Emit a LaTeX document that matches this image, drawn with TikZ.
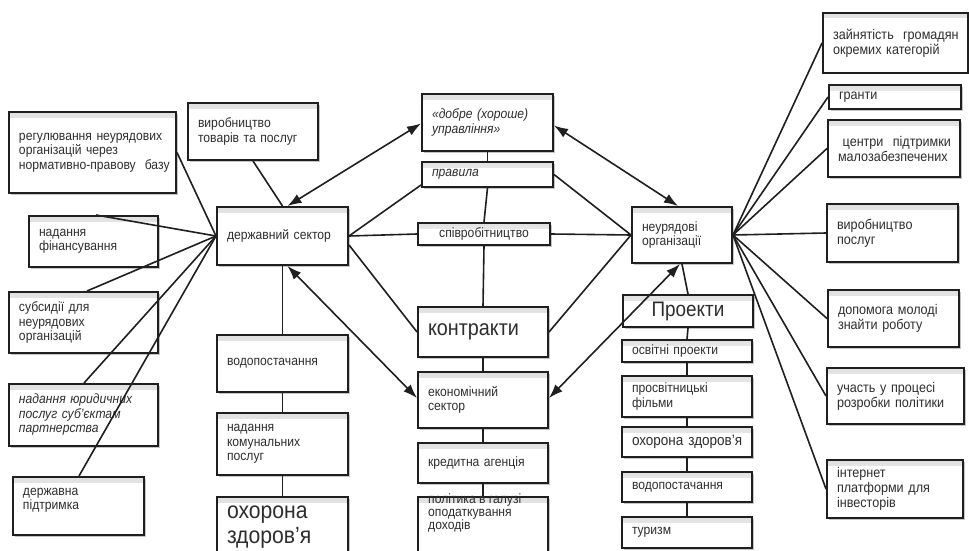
\documentclass[tikz,border=0pt]{standalone}
\usepackage{fontspec}
\setmainfont{Liberation Sans}[FakeStretch=0.9]
\usetikzlibrary{arrows.meta,shadows,calc}
\newcommand\bxx[7][]{%
  \pgfmathsetmacro\bw{#5-#3}%
  \pgfmathsetmacro\bh{#6-#4}%
  \pgfmathsetmacro\tw{#5-#3-20}%
  \node[box,minimum width=\bw pt,minimum height=\bh pt,text width=\tw pt,#1] (#2) at ({(#3+#5)/2},{(#4+#6)/2}) {#7};}
\begin{document}
\begin{tikzpicture}[x=1pt,y=-1pt,
  box/.style={draw=black!88,line width=2pt,fill=white,rectangle,inner xsep=10pt,inner ysep=1pt,align=left,
    font=\fontsize{13.5}{14.5}\selectfont,text=black!82,
    path picture={\shade[top color=black!12,bottom color=white]
      (path picture bounding box.north west) rectangle ([yshift=-5pt]path picture bounding box.north east);},
    drop shadow={shadow xshift=1.5pt,shadow yshift=-1.5pt,fill=black!45}},
  txtstyle/.style={inner sep=0pt,align=left,font=\fontsize{13.5}{13}\selectfont,text=black!82},
  ln/.style={line width=1.6pt,draw=black!88},
  arr/.style={ln,{Latex[length=14pt,width=10pt]}-{Latex[length=14pt,width=10pt]}},
  big/.style={font=\fontsize{23.5}{25}\selectfont},
  rt/.style={font=\fontsize{14}{15}\selectfont},
  itl/.style={font=\fontsize{13.5}{14.5}\selectfont\itshape},
  ctr/.style={align=center}]
\clip (0,0) rectangle (969,551);
\fill[white] (0,0) rectangle (969,551);
% left group
\bxx{reg}{9}{112}{176}{193}{регулювання~неурядових\\організацій~через\\\mbox{нормативно-правову}~~базу}
\bxx{vir}{188}{103}{318}{160}{виробництво\\товарів~та~послуг}
\bxx{fin}{29}{216}{158}{267}{надання\\фінансування}
\bxx{ds}{217}{207}{348}{265}{державний~сектор}
\bxx{sub}{9}{292}{158}{353}{субсидії~для\\неурядових\\організацій}
\bxx[itl]{yur}{9}{384}{158}{446}{надання~юридичних\\послуг~суб'єктам\\партнерства}
\bxx{pid}{13}{477}{144}{535}{державна\\підтримка\\\mbox{}}
\bxx{vod}{217}{335}{348}{392}{водопостачання}
\bxx{kom}{217}{413}{348}{475}{надання\\комунальних\\послуг}
\bxx[big]{ohl}{217}{497}{348}{558}{охорона\\здоров'я}
% centre group
\bxx[itl]{dob}{422}{94}{553}{151}{«добре~(хороше)\\управління»}
\bxx[itl]{prav}{422}{162}{553}{187}{правила}
\bxx[ctr]{spiv}{418}{223}{550}{245}{співробітництво}
\bxx[font=\fontsize{22}{24}\selectfont]{kon}{418}{307}{548}{357}{контракти}
\bxx{ek}{418}{372}{548}{428}{економічний\\сектор}
\bxx{kred}{418}{443}{548}{483}{кредитна~агенція}
\bxx{pol}{418}{497}{548}{570}{}
\node[txtstyle,anchor=north west] (poltxt) at (428,494) {політика~в~галузі\\оподаткування\\доходів};
% right group
\bxx[font=\fontsize{21}{23}\selectfont,ctr]{pro}{623}{295}{753}{327}{Проекти}
\bxx{osv}{622}{340}{752}{362}{освітні~проекти}
\bxx{pros}{622}{376}{752}{417}{просвітницькі\\фільми}
\bxx[font=\fontsize{15}{16}\selectfont]{ohr}{622}{427}{752}{457}{охорона~здоров'я}
\bxx{vodr}{622}{472}{752}{502}{водопостачання}
\bxx{tur}{622}{517}{752}{548}{туризм}
\bxx{nuo}{632}{207}{732}{263}{неурядові\\організації}
\bxx[rt]{zai}{823}{13}{968}{73}{зайнятість~~громадян\\окремих~категорій}
\bxx[rt]{gra}{829}{85}{961}{109}{гранти}
\bxx[rt]{cen}{828}{120}{960}{177}{~центри~~підтримки\\малозабезпечених}
\bxx[rt]{vyr}{827}{204}{958}{262}{виробництво\\послуг}
\bxx[rt]{dop}{828}{290}{959}{347}{допомога~молоді\\знайти~роботу}
\bxx[rt]{uch}{827}{368}{964}{424}{участь~у~процесі\\розробки~політики}
\bxx[rt]{int}{827}{460}{963}{518}{інтернет\\платформи~для\\інвесторів}
% connectors left
\draw[ln] (ds.west) -- (reg.east);
\draw[ln] (ds.west) -- ($(fin.north west)+(68,0)$);
\draw[ln] (ds.west) -- ($(sub.north west)+(79,0)$);
\draw[ln] (ds.west) -- ($(yur.north west)+(76,0)$);
\draw[ln] (ds.west) -- ($(pid.north west)+(67,0)$);
\draw[ln] (vir.south) -- (ds.north);
\draw[ln] (ds.south) -- (vod.north);
\draw[ln] (vod.south) -- (kom.north);
\draw[ln] (kom.south) -- (ohl.north);
\draw[arr] ($(ds.north)+(5,0)$) -- ($(dob.west)+(0,1)$);
\draw[arr] ($(ds.south)+(5,0)$) -- ($(ek.west)+(0,-2)$);
\draw[ln] (ds.east) -- ($(prav.south west)+(0,-3)$);
\draw[ln] (ds.east) -- (spiv.west);
\draw[ln] ($(ds.east)+(0,9)$) -- (kon.west);
% centre chain
\draw[ln] (dob.south) -- (prav.north);
\draw[ln] (prav.south) -- (spiv.north);
\draw[ln] (spiv.south) -- (kon.north);
\draw[ln] (kon.south) -- (ek.north);
\draw[ln] (ek.south) -- (kred.north);
\draw[ln] (kred.south) -- (pol.north);
% right connectors
\draw[ln] (prav.east) -- (nuo.west);
\draw[ln] (spiv.east) -- (nuo.west);
\draw[ln] (kon.east) -- (nuo.west);
\draw[arr] ($(dob.east)+(0,3)$) -- ($(nuo.north)+(-4,0)$);
\draw[arr] ($(ek.east)+(0,-2)$) -- ($(nuo.south)+(-2,0)$);
\draw[ln] (nuo.south) -- (pro.north);
\draw[ln] (pro.south) -- (osv.north);
\draw[ln] (osv.south) -- (pros.north);
\draw[ln] (pros.south) -- (ohr.north);
\draw[ln] (ohr.south) -- (vodr.north);
\draw[ln] (vodr.south) -- (tur.north);
\foreach \t in {zai,gra,cen,vyr,dop,uch,int} \draw[ln] (nuo.east) -- (\t.west);
\end{tikzpicture}
\end{document}
